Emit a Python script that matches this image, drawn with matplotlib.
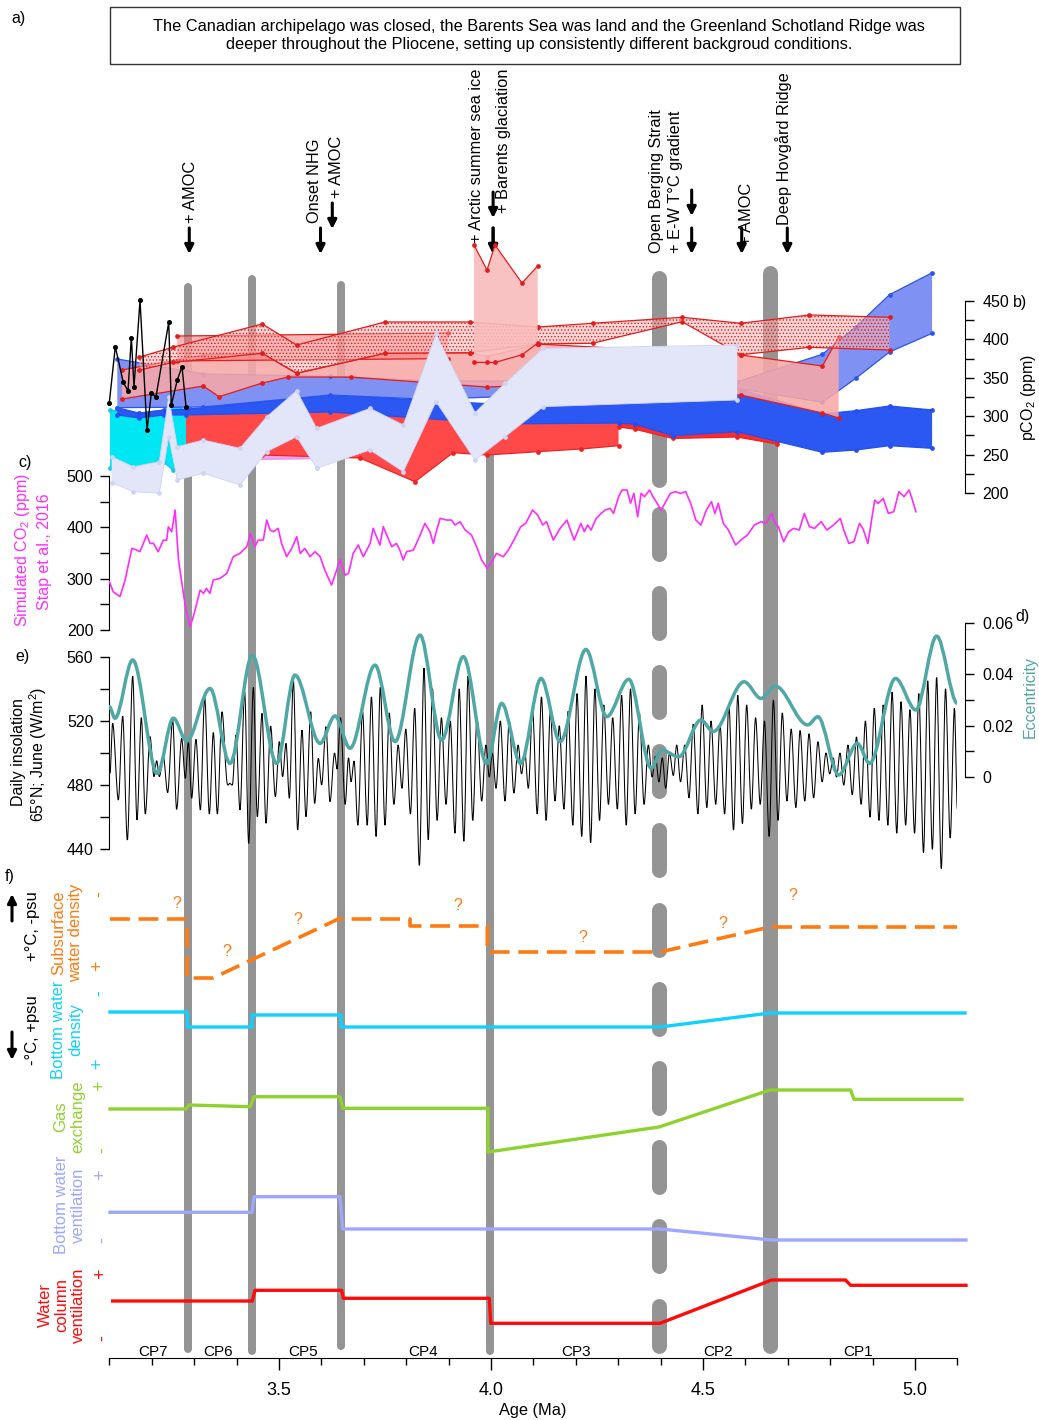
import matplotlib
matplotlib.use('Agg')
import matplotlib.pyplot as plt
from matplotlib.patches import Rectangle, Polygon, PathPatch
from matplotlib.path import Path

plt.rcParams['font.family'] = ['Liberation Sans', 'DejaVu Sans']
plt.rcParams['mathtext.fontset'] = 'custom'
plt.rcParams['mathtext.rm'] = 'Liberation Sans'
plt.rcParams['hatch.linewidth'] = 0.6

# ---------------- data ----------------
boundary_ages = [3.2854, 3.4363, 3.6474, 3.9965, 4.3974, 4.6580]

# b) pCO2 proxy records (age Ma, ppm)
black_age = [3.0998, 3.1139, 3.1328, 3.1439, 3.1517, 3.1580, 3.1722, 3.1887, 3.1988, 3.2099, 3.2399, 3.2460, 3.2601, 3.2712, 3.2807]
black_ppm = [317.6, 390.5, 344.1, 332.8, 402.2, 338.4, 450.9, 281.6, 329.8, 325.4, 422.3, 314.6, 347.1, 364.5, 312.4]

cyan_age = [3.1014, 3.1705, 3.2288, 3.2493, 3.2807]
cyan_hi = [308, 304, 308, 314, 308]
cyan_lo = [233, 234, 240, 230, 227]

lav_age = [3.1054, 3.1564, 3.2177, 3.2399, 3.2601, 3.3215, 3.4080, 3.4710, 3.5417, 3.5889, 3.7146, 3.7932, 3.8703, 3.9623, 4.0330, 4.1233, 4.5807]
lav_hi = [247.3, 234.2, 240.8, 325.4, 260.3, 269.0, 258.2, 299.3, 333.2, 284.2, 310.3, 288.5, 407.0, 304.6, 342.8, 388.4, 392.7]
lav_lo = [213.4, 201.7, 199.6, 273.3, 216.9, 225.7, 210.4, 253.8, 273.3, 232.2, 256.0, 227.7, 318.9, 243.0, 273.3, 312.4, 321.1]

mag_age = [3.2807, 3.5417, 3.7146, 3.8703]
mag_hi = [303, 303, 307, 310]
mag_lo = [243, 244.3, 246.9, 266]

redA_age = [3.2807, 3.4606, 3.6910, 3.8208, 3.9104, 3.9899, 4.1101, 4.2118, 4.3009]
redA_hi = [305.5, 307.0, 309.4, 305.5, 302.9, 301.6, 305, 306, 309]
redA_lo = [261.6, 249.5, 245.6, 214.7, 252.5, 249.5, 253.8, 257.3, 261.6]

redB_age = [4.3009, 4.3399, 4.4290, 4.5807, 4.6738]
redB_hi = [295, 289, 276, 281, 268]
redB_lo = [286, 283, 271, 272.9, 263.8]

dblue_age = [3.1186, 3.1705, 3.2288, 3.2807, 3.6203, 4.0330, 4.3009, 4.3399, 4.4290, 4.5807, 4.7816, 4.8604, 4.9399, 5.0403]
dblue_hi = [311.1, 304.0, 308.1, 309.0, 327.6, 315.0, 320.0, 320.0, 320.0, 336.3, 302.9, 307.2, 313.3, 308.1]
dblue_lo = [301.6, 297.7, 301.6, 301.6, 305.5, 290.0, 291.1, 289.5, 274.6, 279.8, 253.0, 256.0, 261.6, 258.2]

mblue_age = [3.1186, 3.3215, 3.6203, 3.8521, 4.5807, 4.7816, 4.8604, 4.9399, 5.0403]
mblue_hi = [374.5, 355.0, 352.0, 346.0, 345.0, 380.6, 416.5, 458.2, 486.8]
mblue_lo = [311.1, 312.0, 327.6, 322.0, 336.3, 318.1, 349.3, 383.6, 407.9]

pinkA_top_age = [3.1297, 3.3215, 3.4606, 3.5417, 3.7500, 3.9505, 3.9899, 4.1101, 4.5887, 4.7816, 4.8198]
pinkA_top_ppm = [360.2, 379.7, 381.9, 355.9, 381.9, 382.6, 377.5, 394.0, 379.7, 365.4, 402.7]
pinkA_bot_age = [3.1297, 3.3215, 3.3585, 3.4606, 3.5219, 3.6691, 3.9899, 4.1101, 4.5887, 4.7816, 4.8198]
pinkA_bot_ppm = [322.4, 339.3, 325.4, 343.2, 351.0, 351.0, 338.0, 340.6, 327.6, 304.2, 297.7]

hatch1_age = [3.1705, 3.2493, 3.4606, 3.5417, 3.7500, 3.9505, 4.1101]
hatch1_hi = [377.0, 389.7, 420.1, 392.7, 422.7, 422.7, 416.1]
hatch1_lo = [360.0, 370.0, 381.9, 355.9, 381.9, 382.6, 394.0]

hatch2_age = [4.1101, 4.2401, 4.4509, 4.5887, 4.7509, 4.9399]
hatch2_hi = [416.1, 421.0, 428.8, 421.0, 431.8, 428.8]
hatch2_lo = [394.0, 395.0, 423.0, 380.0, 389.7, 386.2]

flat_age = [3.2601, 3.8986]
flat_hi = [404.4, 408.3]
flat_lo = [372.0, 375.0]

tall_age = [3.9599, 3.9906, 4.0094, 4.0731, 4.1101]
tall_hi = [522.9, 490.4, 522.9, 473.4, 495.6]
tall_lo = [370, 370, 370, 380, 395]

# c) simulated CO2 (Stap et al., 2016)
sim_age = [3.100, 3.109, 3.125, 3.137, 3.153, 3.164, 3.172, 3.188, 3.196, 3.204, 3.215, 3.227, 3.235, 3.239, 3.247, 3.255, 3.263, 3.278, 3.290, 3.298,
           3.314, 3.322, 3.329, 3.337, 3.345, 3.361, 3.377, 3.392, 3.408, 3.424, 3.433, 3.443, 3.451, 3.463, 3.471, 3.479, 3.487, 3.498, 3.506, 3.518,
           3.530, 3.542, 3.550, 3.561, 3.573, 3.585, 3.597, 3.608, 3.624, 3.636, 3.644, 3.656, 3.664, 3.675, 3.687, 3.699, 3.715, 3.722, 3.730, 3.738,
           3.746, 3.754, 3.766, 3.777, 3.785, 3.793, 3.801, 3.817, 3.833, 3.844, 3.856, 3.864, 3.872, 3.880, 3.895, 3.907, 3.915, 3.927, 3.939, 3.954,
           3.966, 3.978, 3.991, 4.004, 4.013, 4.021, 4.029, 4.041, 4.054, 4.070, 4.082, 4.098, 4.110, 4.122, 4.131, 4.147, 4.163, 4.179, 4.196, 4.212,
           4.220, 4.228, 4.236, 4.248, 4.260, 4.269, 4.281, 4.289, 4.301, 4.309, 4.321, 4.329, 4.337, 4.346, 4.354, 4.362, 4.374, 4.382, 4.392, 4.401,
           4.410, 4.423, 4.435, 4.447, 4.459, 4.471, 4.483, 4.495, 4.508, 4.520, 4.528, 4.536, 4.548, 4.560, 4.577, 4.589, 4.605, 4.621, 4.637, 4.649,
           4.662, 4.670, 4.678, 4.690, 4.702, 4.714, 4.727, 4.739, 4.751, 4.763, 4.779, 4.792, 4.808, 4.824, 4.832, 4.844, 4.856, 4.869, 4.877, 4.889,
           4.905, 4.913, 4.925, 4.937, 4.950, 4.962, 4.974, 4.986, 4.994, 5.002]
sim_ppm = [294, 274.5, 265, 297, 359, 356, 352.5, 385, 368.7, 368.7, 352.5, 375, 375, 401, 391.5, 433.7, 336, 252, 206.3, 225.8,
           277.8, 271.3, 281, 271.3, 297.3, 300.5, 310.3, 342.8, 349.3, 362.2, 388.2, 362.2, 375.2, 375.2, 414.2, 394.7, 391.5, 398, 368.7, 342.8,
           359, 381.7, 349.3, 359, 342.8, 352.5, 342.8, 316.8, 287.5, 316.8, 336.3, 307, 310.3, 349.3, 365.5, 342.8, 368.7, 398, 381.7, 365.5,
           401.3, 385, 362.2, 368.7, 355.7, 336.3, 352.5, 355.7, 385, 407.7, 391.5, 368.7, 394.7, 417.5, 414.2, 414.2, 404.5, 411, 394.7, 385,
           362.2, 336.3, 320, 336.3, 349.3, 346, 342.8, 355.7, 375.2, 401.2, 407.7, 433.7, 424, 404.5, 411, 375.2, 398, 414.2, 375.2, 407.7,
           391.5, 404.5, 394.7, 417.5, 427.2, 433.7, 437, 427.2, 459.7, 472.7, 472.7, 446.7, 466.2, 420.7, 466.2, 459.7, 472.7, 459.7, 446.7, 433.7,
           446.7, 466.2, 469.5, 466.2, 469.5, 446.7, 414.2, 404.5, 433.7, 450, 427.2, 446.7, 407.7, 394.7, 365.5, 375.2, 385, 404.5, 411, 407.7,
           427.2, 407.7, 401.2, 372, 391.5, 398, 394.7, 427.2, 401.2, 398, 411, 394.7, 404.5, 417.5, 394.7, 368.7, 372, 407.7, 398, 368.7,
           453.2, 446.7, 456.5, 427.2, 430.5, 469.5, 459.7, 472.7, 453.2, 430.5]

# d) eccentricity (extrema read from the figure)
ecc_age = [3.0998, 3.1132, 3.1549, 3.2130, 3.2508, 3.2823, 3.3373, 3.3844, 3.4371, 3.4945, 3.5377, 3.5967, 3.6321, 3.6675,
           3.7264, 3.7736, 3.8325, 3.8836, 3.9347, 3.9898, 4.0252, 4.0700, 4.1180, 4.1630, 4.2240, 4.2730, 4.3250, 4.3780,
           4.4020, 4.4430, 4.4950, 4.5240, 4.5970, 4.6370, 4.6700, 4.7470, 4.7710, 4.8200, 4.8640, 4.8930, 4.9540, 5.0020,
           5.0510, 5.1000]
ecc_val = [0.0274, 0.0229, 0.0456, 0.0014, 0.0229, 0.0140, 0.0345, 0.0053, 0.0475, 0.0053, 0.0397, 0.0131, 0.0238, 0.0112,
           0.0436, 0.0138, 0.0553, 0.0144, 0.0469, 0.0053, 0.0287, 0.0053, 0.0384, 0.0138, 0.0497, 0.0235, 0.0381, 0.0034,
           0.0105, 0.0079, 0.0222, 0.0177, 0.0371, 0.0306, 0.0355, 0.0203, 0.0235, 0.0008, 0.0131, 0.0053, 0.0384, 0.0261,
           0.0549, 0.0287]

# e) insolation 65N June (extrema read from the figure)
ins_age = [3.1014, 3.1077, 3.1211, 3.1313, 3.1423, 3.1549, 3.1651, 3.1753, 3.1847, 3.1958, 3.2052, 3.2115, 3.2178, 3.2272, 3.2374, 3.2492,
           3.2586, 3.2704, 3.2791, 3.2862, 3.2940, 3.3042, 3.3145, 3.3247, 3.3357, 3.3451, 3.3546, 3.3656, 3.3766, 3.3844, 3.3899, 3.3986,
           3.4080, 3.4190, 3.4285, 3.4395, 3.4489, 3.4599, 3.4693, 3.4803, 3.4914, 3.5008, 3.5086, 3.5165, 3.5244, 3.5338, 3.5440, 3.5542,
           3.5637, 3.5747, 3.5841, 3.5928, 3.6006, 3.6108, 3.6203,
           3.631, 3.637, 3.645, 3.656, 3.664, 3.670, 3.677, 3.686, 3.697, 3.708, 3.718, 3.729, 3.739, 3.750, 3.760, 3.771,
           3.781, 3.790, 3.799, 3.810, 3.820, 3.831, 3.842, 3.852, 3.862, 3.873, 3.883, 3.894, 3.904, 3.915, 3.925, 3.936,
           3.946, 3.957, 3.967, 3.978, 3.988, 3.996, 4.003, 4.012, 4.022, 4.033, 4.043, 4.054, 4.064, 4.072, 4.080, 4.088,
           4.098, 4.109, 4.119, 4.130, 4.140, 4.151, 4.161, 4.172, 4.182, 4.193, 4.203, 4.214, 4.224, 4.235, 4.245, 4.256,
           4.266, 4.277, 4.287, 4.298, 4.308, 4.319, 4.329, 4.340, 4.350, 4.361, 4.371, 4.380, 4.388, 4.396, 4.404, 4.412,
           4.421, 4.430, 4.438, 4.447, 4.457, 4.467, 4.477, 4.488, 4.498, 4.509, 4.519, 4.530, 4.540, 4.551, 4.561, 4.572,
           4.582, 4.593, 4.603, 4.614, 4.624, 4.635, 4.645, 4.656, 4.666, 4.677, 4.687, 4.698, 4.708, 4.719, 4.729, 4.740,
           4.750, 4.761, 4.771, 4.781, 4.790, 4.799, 4.807, 4.815, 4.823, 4.832, 4.842, 4.852, 4.862, 4.873, 4.883, 4.894,
           4.904, 4.915, 4.925, 4.936, 4.946, 4.957, 4.967, 4.978, 4.988, 4.999, 5.009, 5.020, 5.030, 5.041, 5.051, 5.062,
           5.072, 5.083, 5.093, 5.100]
ins_val = [487.3, 518.5, 470.7, 523.0, 445.8, 548.0, 458.3, 522.0, 462.0, 510.2, 485.3, 495.2, 485.3, 497.7, 475.3, 520.6,
           464.9, 509.1, 484.2, 507.1, 471.8, 508.5, 464.5, 534.7, 462.0, 512.7, 462.0, 525.7, 483.2, 481.1, 480.0, 511.2,
           464.5, 538.2, 443.7, 540.9, 460.3, 524.7, 456.2, 516.8, 472.8, 507.1, 485.3, 506.0, 471.8, 545.5, 452.0, 514.3,
           460.3, 525.7, 468.6, 496.7, 480.1, 516.4, 469.7,
           500, 490, 522, 468, 497, 482, 495, 455, 526, 455, 535, 448, 541, 455, 525, 468,
           505, 478, 515, 462, 528, 430, 553, 446, 540, 458, 522, 468, 520, 450, 540, 445,
           548, 458, 522, 470, 505, 485, 500, 478, 520, 470, 520, 475, 505, 487, 500, 478,
           527, 462, 535, 458, 526, 470, 517, 465, 526, 455, 537, 448, 548, 444, 540, 458,
           530, 468, 522, 465, 536, 455, 540, 462, 525, 468, 505, 485, 498, 482, 497, 478,
           500, 486, 505, 482, 505, 472, 518, 462, 530, 466, 520, 468, 518, 462, 530, 452,
           536, 456, 530, 465, 522, 468, 520, 448, 533, 458, 525, 470, 515, 466, 514, 470,
           512, 472, 507, 482, 500, 487, 497, 485, 500, 480, 505, 474, 510, 468, 520, 460,
           528, 458, 530, 455, 538, 450, 532, 455, 527, 450, 537, 438, 545, 440, 547, 428,
           540, 447, 528, 465]

# f) schematic records (relative level, arbitrary units)
sub_age = [3.1014, 3.2830, 3.2830, 3.3443, 3.6399, 3.8090, 3.8090, 3.9913, 3.9913, 4.3986, 4.6580, 5.0991]
sub_lvl = [439, 439, 380, 380, 439, 439, 432, 432, 406, 406, 431, 431]
bwd_age = [3.1014, 3.2842, 3.2842, 3.4363, 3.4363, 3.6462, 3.6462, 4.3986, 4.6580, 5.1179]
bwd_lvl = [346, 346, 331, 331, 343, 343, 331, 331, 345, 345]
gas_age = [3.1014, 3.2807, 3.2877, 3.4316, 3.4410, 3.6439, 3.6502, 3.9929, 3.9929, 4.3962, 4.6580, 4.8481, 4.8561, 5.1108]
gas_lvl = [249, 249, 253, 251.3, 261.3, 261.3, 249.7, 249.7, 206, 231, 268, 268, 258.7, 258.7]
bwv_age = [3.1014, 3.4363, 3.4410, 3.6439, 3.6502, 4.3986, 4.6618, 5.1203]
bwv_lvl = [145.7, 145.7, 161.3, 161.3, 129, 129, 118, 118]
wcv_age = [3.1078, 3.4370, 3.4434, 3.6479, 3.6517, 3.9960, 3.9993, 4.3986, 4.6618, 4.8361, 4.8481, 5.1203]
wcv_lvl = [57, 57, 67.7, 67.7, 59.7, 59.7, 34.7, 34.7, 78, 78, 72.7, 72.7]

cp_labels = ['CP7', 'CP6', 'CP5', 'CP4', 'CP3', 'CP2', 'CP1']
cp_ages = [3.202, 3.356, 3.557, 3.840, 4.200, 4.535, 4.866]
q_ages = [3.258, 3.376, 3.544, 3.922, 4.216, 4.546, 4.712]
q_lvl = [455, 406, 438, 453, 421, 435, 462]

# (label, arrow age, text age, text bottom px, arrow top px)
events = [
    ("+ AMOC", 3.2884, 3.2917, 223, 228),
    ("Onset NHG", 3.5979, 3.5849, 223, 228),
    ("+ AMOC", 3.6257, 3.6361, 198, 203),
    ("+ Arctic summer sea ice", 4.0050, 3.9663, 243, 228),
    ("+ Barents glaciation", 4.0050, 4.0290, 213, 192),
    ("Open Berging Strait", None, 4.3892, 253, None),
    ("+ E-W T\u00b0C gradient", 4.4733, 4.4363, 253, 190),
    ("+ AMOC", 4.5913, 4.6031, 245, 228),
    ("Deep Hovg\u00e5rd Ridge", 4.6988, 4.6894, 225, 228),
]

# ---------------- layout ----------------
W, H = 1039, 1420
fig = plt.figure(figsize=(W / 100, H / 100), dpi=100)
AGE0, AGE1 = 3.1, 5.1
PPA = 424.0
X0 = 109.4
X1 = X0 + (AGE1 - AGE0) * PPA


def px2age(x):
    return AGE0 + (x - X0) / PPA


ann = fig.add_axes([0, 0, 1, 1])
ann.set_xlim(px2age(0), px2age(W))
ann.set_ylim(H, 0)
ann.axis('off')
ann.set_zorder(0)

GRAY = '#949494'
bar_spans = [(283, 1353, 8), (275, 1355, 8), (281, 1350, 8), (425, 1355, 8), None, (265, 1353, 15)]
for a, sp in zip(boundary_ages, bar_spans):
    if sp is None:
        continue
    t, b, w = sp
    ann.plot([a, a], [t + w / 2, b - w / 2], color=GRAY, lw=w * 0.72, solid_capstyle='round')
a = boundary_ages[4]
wd = 15
ann.plot([a, a], [270 + wd / 2, 487 - wd / 2], color=GRAY, lw=wd * 0.72, solid_capstyle='round')
s = 506
while s < 1340:
    ann.plot([a, a], [s + wd / 2, s + 55 - wd / 2], color=GRAY, lw=wd * 0.72, solid_capstyle='round')
    s += 79.2


def make_panel(top, bot, v1, p1, v2, p2):
    ax = fig.add_axes([X0 / W, 1 - bot / H, (X1 - X0) / W, (bot - top) / H])
    sl = (p2 - p1) / (v2 - v1)
    ax.set_ylim(v1 + (bot - p1) / sl, v1 + (top - p1) / sl)
    ax.set_xlim(AGE0, AGE1)
    ax.patch.set_visible(False)
    for sp in ax.spines.values():
        sp.set_visible(False)
    ax.set_xticks([])
    ax.set_yticks([])
    ax.set_zorder(2)
    return ax


def smooth_line(ax, x, y, **kw):
    """Smooth cubic curve through the points; flat tangents at local extrema."""
    n = len(x)

    def slope(i):
        if i == 0 or i == n - 1:
            return 0.0
        if (y[i] - y[i - 1]) * (y[i + 1] - y[i]) <= 0:
            return 0.0
        return (y[i + 1] - y[i - 1]) / (x[i + 1] - x[i - 1])

    verts = [(x[0], y[0])]
    codes = [Path.MOVETO]
    for i in range(n - 1):
        dx = x[i + 1] - x[i]
        verts += [(x[i] + dx / 3, y[i] + slope(i) * dx / 3),
                  (x[i + 1] - dx / 3, y[i + 1] - slope(i + 1) * dx / 3),
                  (x[i + 1], y[i + 1])]
        codes += [Path.CURVE4] * 3
    ax.add_patch(PathPatch(Path(verts, codes), facecolor='none', **kw))


TL = 6.5
RPOS = (965 - X0) / (X1 - X0)

# ---- panel b ----
axb = make_panel(230, 500, 200, 493, 450, 301)


def band(ax, x, lo, hi, fc, ec=None, alpha=1.0, hatch=None, marker=True, z=1, lw=0.9):
    ax.fill_between(x, lo, hi, facecolor=fc, alpha=alpha, lw=0, zorder=z)
    if hatch:
        ax.fill_between(x, lo, hi, facecolor='none', edgecolor=ec, hatch=hatch, lw=0, zorder=z)
    if ec:
        m = 'o' if marker else None
        ax.plot(x, hi, color=ec, lw=lw, marker=m, ms=2.4, zorder=z + 0.1, clip_on=False)
        ax.plot(x, lo, color=ec, lw=lw, marker=m, ms=2.4, zorder=z + 0.1, clip_on=False)


def poly(ax, xt, yt, xb, yb, fc, ec, alpha=1.0, hatch=None, z=1):
    pts = list(zip(xt, yt)) + list(zip(xb[::-1], yb[::-1]))
    ax.add_patch(Polygon(pts, closed=True, facecolor=fc, alpha=alpha, lw=0, zorder=z))
    if hatch:
        ax.add_patch(Polygon(pts, closed=True, facecolor='none', edgecolor=ec, hatch=hatch, lw=0, zorder=z))
    ax.plot(xt, yt, color=ec, lw=0.9, marker='o', ms=2.4, zorder=z + 0.1)
    ax.plot(xb, yb, color=ec, lw=0.9, marker='o', ms=2.4, zorder=z + 0.1)


band(axb, cyan_age, cyan_lo, cyan_hi, '#00e6f2', ec='#19c8ee', z=1)
band(axb, mag_age, mag_lo, mag_hi, '#f2a4f2', ec='#e890e8', z=1.2, marker=False)
band(axb, redA_age, redA_lo, redA_hi, '#ff4848', ec='#ee2222', z=1.5)
band(axb, redB_age, redB_lo, redB_hi, '#ff2a2a', ec='#ee2222', z=1.6)
band(axb, dblue_age, dblue_lo, dblue_hi, '#2b57f2', ec='#2250ee', z=2)
band(axb, mblue_age, mblue_lo, mblue_hi, '#7f92f3', ec='#2a55ee', z=2.5)
poly(axb, pinkA_top_age, pinkA_top_ppm, pinkA_bot_age, pinkA_bot_ppm, '#f7a8a8', '#e51c1c', alpha=0.88, z=3)
band(axb, flat_age, flat_lo, flat_hi, '#f47a7a', ec='#e51c1c', alpha=0.55, z=3.2)
band(axb, hatch1_age, hatch1_lo, hatch1_hi, '#f8b8b8', ec='#e51c1c', alpha=0.55, hatch='.....', z=3.4)
band(axb, hatch2_age, hatch2_lo, hatch2_hi, '#f8b8b8', ec='#e51c1c', alpha=0.55, hatch='.....', z=3.4)
band(axb, tall_age, tall_lo, tall_hi, '#f9bcbc', ec='#e51c1c', alpha=0.9, z=3.6)
band(axb, lav_age, lav_lo, lav_hi, '#e3e6f9', ec='#cfd4f4', z=4, lw=0.6)
axb.plot(black_age, black_ppm, color='black', lw=1.0, marker='o', ms=2.6, zorder=5, clip_on=False)

axb.spines['right'].set_visible(True)
axb.spines['right'].set_bounds(200, 450)
axb.spines['right'].set_position(('axes', RPOS))
axb.yaxis.tick_right()
axb.set_yticks([200, 250, 300, 350, 400, 450])
axb.set_yticks([225, 275, 325, 375, 425], minor=True)
axb.tick_params(axis='y', which='both', direction='out', length=TL, width=1, labelsize=11.5, pad=6)

# ---- panel c ----
axc = make_panel(440, 640, 500, 476, 200, 630)
axc.plot(sim_age, sim_ppm, color='#ff2cff', lw=1.2, zorder=3)
axc.spines['left'].set_visible(True)
axc.spines['left'].set_bounds(200, 500)
axc.set_yticks([200, 300, 400, 500])
axc.set_yticks([250, 350, 450], minor=True)
axc.tick_params(axis='y', which='both', direction='out', length=TL, width=1, labelsize=11.5, pad=5)

# ---- panel e ----
axe = make_panel(640, 870, 560, 656.7, 440, 849.3)
smooth_line(axe, ins_age, ins_val, edgecolor='black', lw=0.75, zorder=3)
axe.spines['left'].set_visible(True)
axe.spines['left'].set_bounds(440, 560)
axe.set_yticks([440, 480, 520, 560])
axe.set_yticks([460, 500, 540], minor=True)
axe.tick_params(axis='y', which='both', direction='out', length=TL, width=1, labelsize=11.5, pad=5)

# ---- panel d ----
axd = make_panel(600, 870, 0.06, 623, 0.0, 777)
smooth_line(axd, ecc_age, ecc_val, edgecolor='#4fa8a5', lw=2.5, zorder=4, joinstyle='round', capstyle='round')
axd.spines['right'].set_visible(True)
axd.spines['right'].set_bounds(0, 0.06)
axd.spines['right'].set_position(('axes', RPOS))
axd.yaxis.tick_right()
axd.set_yticks([0, 0.02, 0.04, 0.06])
axd.set_yticklabels(['0', '0.02', '0.04', '0.06'])
axd.set_yticks([0.01, 0.03, 0.05], minor=True)
axd.tick_params(axis='y', which='both', direction='out', length=TL, width=1, labelsize=11.5, pad=6)

# ---- panel f ----
axf = make_panel(870, 1358, 488, 870, 0, 1358)
axf.plot(sub_age, sub_lvl, color='#ff7a10', lw=2.6, ls=(0, (5.5, 2.4)), zorder=3, clip_on=False)
axf.plot(bwd_age, bwd_lvl, color='#10d0ff', lw=2.4, zorder=3, clip_on=False)
axf.plot(gas_age, gas_lvl, color='#8fd12e', lw=2.4, zorder=3, clip_on=False)
axf.plot(bwv_age, bwv_lvl, color='#9ea7ff', lw=2.4, zorder=3, clip_on=False)
axf.plot(wcv_age, wcv_lvl, color='#ff0a0a', lw=2.4, zorder=3, clip_on=False)
for qa, ql in zip(q_ages, q_lvl):
    axf.text(qa, ql, '?', color='#ff7a10', fontsize=11.5, ha='center', va='center')
for lab, ca in zip(cp_labels, cp_ages):
    axf.text(ca, 6, lab, fontsize=11, ha='center', va='center')
axf.spines['bottom'].set_visible(True)
axf.set_xticks([3.5, 4.0, 4.5, 5.0])
axf.set_xticklabels(['3.5', '4.0', '4.5', '5.0'])
axf.set_xticks([3.1 + 0.1 * i for i in range(21)], minor=True)
axf.tick_params(axis='x', which='major', direction='out', length=8.5, width=1, labelsize=13, pad=9)
axf.tick_params(axis='x', which='minor', direction='out', length=5, width=1)


# ---------------- annotations ----------------
def T(x, y, s, **kw):
    ann.text(px2age(x), y, s, **kw)


ann.add_patch(Rectangle((px2age(110), 7), (960 - 110) / PPA, 57, fill=False, lw=1.0, ec='#333333'))
T(539, 26, "The Canadian archipelago was closed, the Barents Sea was land and the Greenland Schotland Ridge was",
  fontsize=11.8, ha='center', va='center')
T(539, 45, "deeper throughout the Pliocene, setting up consistently different backgroud conditions.",
  fontsize=11.8, ha='center', va='center')
T(18, 18, 'a)', fontsize=11.5, ha='center', va='center')

for lab, aa, ta, ty, ay in events:
    ann.text(ta, ty, lab, rotation=90, fontsize=11.8, ha='center', va='bottom')
    if aa is not None:
        ann.annotate('', xy=(aa, ay + 26), xytext=(aa, ay),
                     arrowprops=dict(arrowstyle='-|>', lw=2.2, color='black', mutation_scale=13,
                                     shrinkA=0, shrinkB=0))
for aa in (4.0050, 4.4733):
    ann.annotate('', xy=(aa, 254), xytext=(aa, 228),
                 arrowprops=dict(arrowstyle='-|>', lw=2.2, color='black', mutation_scale=13, shrinkA=0, shrinkB=0))

T(1020, 303, 'b)', fontsize=11.5, ha='center', va='center')
T(1028, 398, 'pCO$_2$ (ppm)', fontsize=11.5, rotation=90, ha='center', va='center')
T(25, 462, 'c)', fontsize=11.5, ha='center', va='center')
T(23, 550, 'Simulated CO$_2$ (ppm)', fontsize=11.5, rotation=90, ha='center', va='center', color='#ff2cff')
T(44, 552, 'Stap et al., 2016', fontsize=11.5, rotation=90, ha='center', va='center', color='#ff2cff')
T(23, 657, 'e)', fontsize=11.5, ha='center', va='center')
T(19, 752, 'Daily insolation', fontsize=11.5, rotation=90, ha='center', va='center')
T(38, 754, '65\u00b0N; June (W/m$^2$)', fontsize=11.5, rotation=90, ha='center', va='center')
T(1023, 617, 'd)', fontsize=11.5, ha='center', va='center')
T(1030, 697, 'Eccentricity', fontsize=11.5, rotation=90, ha='center', va='center', color='#4fa8a5')

T(10, 877, 'f)', fontsize=11.5, ha='center', va='center')
ann.annotate('', xy=(px2age(12), 894), xytext=(px2age(12), 921),
             arrowprops=dict(arrowstyle='-|>', lw=2.2, color='black', mutation_scale=13, shrinkA=0, shrinkB=0))
ann.annotate('', xy=(px2age(12), 1060), xytext=(px2age(12), 1032),
             arrowprops=dict(arrowstyle='-|>', lw=2.2, color='black', mutation_scale=13, shrinkA=0, shrinkB=0))
T(33, 926, '+\u00b0C, -psu', fontsize=12, rotation=90, ha='center', va='center')
T(33, 1030, '-\u00b0C, +psu', fontsize=12, rotation=90, ha='center', va='center')

T(67, 933, 'Subsurface\nwater density', fontsize=12, rotation=90, ha='center', va='center',
  color='#ff7a10', linespacing=1.2)
T(67, 1030, 'Bottom water\ndensity', fontsize=12, rotation=90, ha='center', va='center',
  color='#10d0ff', linespacing=1.2)
T(69, 1117, 'Gas\nexchange', fontsize=12, rotation=90, ha='center', va='center',
  color='#8fd12e', linespacing=1.2)
T(70, 1205, 'Bottom water\nventilation', fontsize=12, rotation=90, ha='center', va='center',
  color='#9ea7ff', linespacing=1.2)
T(62, 1305, 'Water\ncolumn\nventilation', fontsize=12, rotation=90, ha='center', va='center',
  color='#ff0a0a', linespacing=1.15)

signs = [('-', 100, 894, '#ff7a10'), ('+', 98, 966, '#ff7a10'),
         ('-', 100, 993, '#10d0ff'), ('+', 98, 1064, '#10d0ff'),
         ('+', 100, 1086, '#8fd12e'), ('-', 103, 1150, '#8fd12e'),
         ('+', 101, 1175, '#9ea7ff'), ('-', 103, 1240, '#9ea7ff'),
         ('+', 101, 1274, '#ff0a0a'), ('-', 103, 1338, '#ff0a0a')]
for sgn, x, y, c in signs:
    T(x, y, sgn, fontsize=13, rotation=90, ha='center', va='center', color=c)

T(533, 1410, 'Age (Ma)', fontsize=11.8, ha='center', va='center')

fig.savefig('out.png', dpi=100)
